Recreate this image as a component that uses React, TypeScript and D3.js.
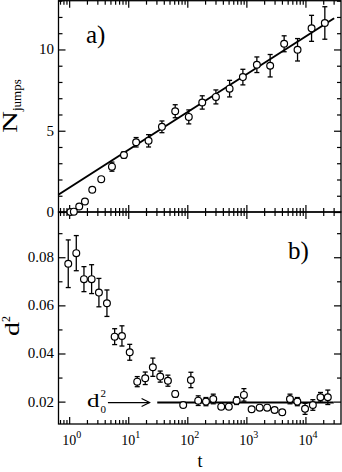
import React, { useEffect, useRef } from "react";
import * as d3 from "d3";

// panel a) : number of jumps vs t
const tJumps = [1.05, 1.2, 1.48, 1.85, 2.46, 3.49, 5.3, 8.46, 13.6, 22.1, 37.2, 62.4, 106, 179, 305, 520, 873, 1506, 2528, 4361, 7350, 12700, 21300];
const nJumps = [0.0, 0.02, 0.34, 0.65, 1.37, 2.02, 2.79, 3.51, 4.29, 4.38, 5.24, 6.2, 5.85, 6.74, 7.08, 7.59, 8.3, 9.06, 9.0, 10.35, 9.98, 11.3, 11.63];
const nErr = [0.05, 0.05, 0.08, 0.08, 0.1, 0.12, 0.28, 0.2, 0.29, 0.38, 0.36, 0.4, 0.43, 0.41, 0.43, 0.51, 0.48, 0.48, 0.69, 0.49, 0.69, 0.8, 1.0];
const fitT = [0.655, 30600];
const fitN = [1.06, 11.92];

// panel b) : d^2 vs t
const tDist = [0.965, 1.32, 1.78, 2.4, 3.19, 4.36, 5.89, 7.83, 10.6, 14.2, 19.4, 26.1, 34.8, 47, 62.4, 85.2, 115, 153, 207, 275, 375, 505, 683, 909, 1227, 1679, 2249, 3006, 4050, 5474, 7285, 9848, 13350, 17980, 23920];
const d2 = [0.0773, 0.0817, 0.0709, 0.0709, 0.0653, 0.0609, 0.047, 0.0473, 0.0405, 0.0283, 0.0297, 0.0343, 0.0304, 0.0287, 0.0232, 0.0186, 0.029, 0.0204, 0.02, 0.0211, 0.0179, 0.0179, 0.0204, 0.0228, 0.0168, 0.0175, 0.0175, 0.0165, 0.0156, 0.0211, 0.02, 0.017, 0.0186, 0.0218, 0.0218];
const d2Err = [0.0099, 0.0073, 0.0052, 0.006, 0.0059, 0.0055, 0.0033, 0.0042, 0.0033, 0.0021, 0.0026, 0.0038, 0.0023, 0.0023, 0.0013, 0.0008, 0.0032, 0.002, 0.0017, 0.002, 0.001, 0.001, 0.0016, 0.0026, 0.001, 0.001, 0.001, 0.001, 0.001, 0.002, 0.0017, 0.0023, 0.0022, 0.002, 0.003];
const d0T = [31, 30200];
const d0 = 0.0196;
const arrowT = [4.53, 23];

const nTicks = [0, 5, 10];
const dTicks = [0.02, 0.04, 0.06, 0.08];
const dMinor = [0.03, 0.05, 0.07, 0.09];
const tMajor = [1, 10, 100, 1000, 10000];
const tExp = ["0", "1", "2", "3", "4"];

const FONT = "'Liberation Serif', 'Times New Roman', serif";

export default function App() {
  const ref = useRef<SVGSVGElement>(null);

  useEffect(() => {
    const svg = d3.select(ref.current);
    svg.selectAll("*").remove();

    const left = 58.5, right = 341, topY = 0.7, midY = 212, botY = 424;

    const x = d3.scaleLog().domain([0.66, 40000]).range([left, right]);
    const yTop = d3.scaleLinear().domain([0, 13]).range([midY, topY]);
    const yBot = d3.scaleLinear().domain([0.0107, 0.0988]).range([botY, midY]);

    const tMinor: number[] = [];
    [0.1, 1, 10, 100, 1000, 10000].forEach(dec => {
      for (let k = 2; k <= 9; k++) {
        const v = dec * k;
        if (v > 0.66 && v < 40000) tMinor.push(v);
      }
    });
    const nMinor = d3.range(1, 14).filter(v => v % 5 !== 0);

    const g = svg.append("g");

    const axisStyle = (sel: any) => {
      sel.select(".domain").remove();
      sel.selectAll("line").attr("stroke", "#000").attr("stroke-width", 1.2);
      sel.selectAll("text").remove();
    };

    // x ticks on the four horizontal edges
    [
      { y: topY, make: d3.axisTop },
      { y: midY, make: d3.axisBottom },
      { y: midY, make: d3.axisTop },
      { y: botY, make: d3.axisBottom },
    ].forEach(e => {
      g.append("g").attr("transform", `translate(0,${e.y})`)
        .call(e.make(x).tickValues(tMajor).tickSize(-7)).call(axisStyle);
      g.append("g").attr("transform", `translate(0,${e.y})`)
        .call(e.make(x).tickValues(tMinor).tickSize(-4)).call(axisStyle);
    });

    // y ticks
    [
      { xx: left, make: d3.axisLeft },
      { xx: right, make: d3.axisRight },
    ].forEach(e => {
      g.append("g").attr("transform", `translate(${e.xx},0)`)
        .call(e.make(yTop).tickValues(nTicks).tickSize(-7)).call(axisStyle);
      g.append("g").attr("transform", `translate(${e.xx},0)`)
        .call(e.make(yTop).tickValues(nMinor).tickSize(-4)).call(axisStyle);
      g.append("g").attr("transform", `translate(${e.xx},0)`)
        .call(e.make(yBot).tickValues(dTicks).tickSize(-7)).call(axisStyle);
      g.append("g").attr("transform", `translate(${e.xx},0)`)
        .call(e.make(yBot).tickValues(dMinor).tickSize(-4)).call(axisStyle);
    });

    // frames
    g.append("rect").attr("x", left).attr("y", topY).attr("width", right - left).attr("height", midY - topY)
      .attr("fill", "none").attr("stroke", "#000").attr("stroke-width", 1.3);
    g.append("rect").attr("x", left).attr("y", midY).attr("width", right - left).attr("height", botY - midY)
      .attr("fill", "none").attr("stroke", "#000").attr("stroke-width", 1.3);

    // tick labels
    nTicks.forEach(v => {
      g.append("text").attr("x", 54).attr("y", yTop(v) + 5).attr("text-anchor", "end")
        .attr("font-family", FONT).attr("font-size", 15).text(String(v));
    });
    dTicks.forEach(v => {
      g.append("text").attr("x", 54).attr("y", yBot(v) + 5).attr("text-anchor", "end")
        .attr("font-family", FONT).attr("font-size", 15).text(v.toFixed(2));
    });
    tMajor.forEach((v, i) => {
      const t = g.append("text").attr("x", x(v) - 7).attr("y", 445)
        .attr("font-family", FONT).attr("font-size", 14);
      t.append("tspan").text("10");
      t.append("tspan").attr("dy", -7).attr("font-size", 10).text(tExp[i]);
    });

    // axis titles
    g.append("text").attr("x", 200).attr("y", 467).attr("text-anchor", "middle")
      .attr("font-family", FONT).attr("font-size", 18).text("t");

    const nl = g.append("text").attr("transform", "translate(17,133) rotate(-90)")
      .attr("font-family", FONT).attr("font-size", 20);
    nl.append("tspan").attr("textLength", 22).attr("lengthAdjust", "spacingAndGlyphs").text("N");
    nl.append("tspan").attr("dy", 4).attr("font-size", 13).text("jumps");

    const dl = g.append("text").attr("transform", "translate(19,336) rotate(-90)")
      .attr("font-family", FONT).attr("font-size", 20);
    dl.append("tspan").attr("textLength", 14).attr("lengthAdjust", "spacingAndGlyphs").text("d");
    dl.append("tspan").attr("dy", -9).attr("font-size", 12).text("2");

    g.append("text").attr("x", 86).attr("y", 42.5).attr("font-family", FONT).attr("font-size", 25).text("a)");
    g.append("text").attr("x", 288).attr("y", 258.5).attr("font-family", FONT).attr("font-size", 25).text("b)");

    // fit lines
    g.append("line").attr("x1", x(fitT[0])).attr("x2", x(fitT[1]))
      .attr("y1", yTop(fitN[0])).attr("y2", yTop(fitN[1]))
      .attr("stroke", "#000").attr("stroke-width", 2);
    g.append("line").attr("x1", x(d0T[0])).attr("x2", x(d0T[1]))
      .attr("y1", yBot(d0)).attr("y2", yBot(d0))
      .attr("stroke", "#000").attr("stroke-width", 2);

    // arrow + d0^2 label
    const ay = yBot(d0);
    const ax2 = x(arrowT[1]);
    g.append("line").attr("x1", x(arrowT[0])).attr("x2", ax2).attr("y1", ay).attr("y2", ay)
      .attr("stroke", "#000").attr("stroke-width", 1.2);
    g.append("polyline").attr("points", `${ax2 - 8},${ay - 4} ${ax2},${ay} ${ax2 - 8},${ay + 4}`)
      .attr("fill", "none").attr("stroke", "#000").attr("stroke-width", 1.2);
    g.append("text").attr("x", 87).attr("y", 407).attr("font-family", FONT).attr("font-size", 18)
      .attr("textLength", 12.5).attr("lengthAdjust", "spacingAndGlyphs").text("d");
    g.append("text").attr("x", 100.5).attr("y", 397).attr("font-family", FONT).attr("font-size", 11).text("2");
    g.append("text").attr("x", 100.5).attr("y", 412.5).attr("font-family", FONT).attr("font-size", 11).text("0");

    // data with error bars
    const drawSeries = (ts: number[], vs: number[], es: number[], y: any) => {
      const s = g.append("g");
      ts.forEach((t, i) => {
        const cx = x(t);
        const y1 = y(vs[i] - es[i]), y2 = y(vs[i] + es[i]);
        s.append("line").attr("x1", cx).attr("x2", cx).attr("y1", y1).attr("y2", y2)
          .attr("stroke", "#000").attr("stroke-width", 1.3);
        [y1, y2].forEach(yy => {
          s.append("line").attr("x1", cx - 2.5).attr("x2", cx + 2.5).attr("y1", yy).attr("y2", yy)
            .attr("stroke", "#000").attr("stroke-width", 1.3);
        });
      });
      s.selectAll("circle").data(ts).enter().append("circle")
        .attr("cx", d => x(d)).attr("cy", (d, i) => y(vs[i])).attr("r", 3.4)
        .attr("fill", "#fff").attr("stroke", "#000").attr("stroke-width", 1.2);
    };
    drawSeries(tJumps, nJumps, nErr, yTop);
    drawSeries(tDist, d2, d2Err, yBot);
  }, []);

  return (
    <svg ref={ref} width={342} height={472}
      style={{ position: "absolute", left: 0, top: 0, background: "#fff" }} />
  );
}
